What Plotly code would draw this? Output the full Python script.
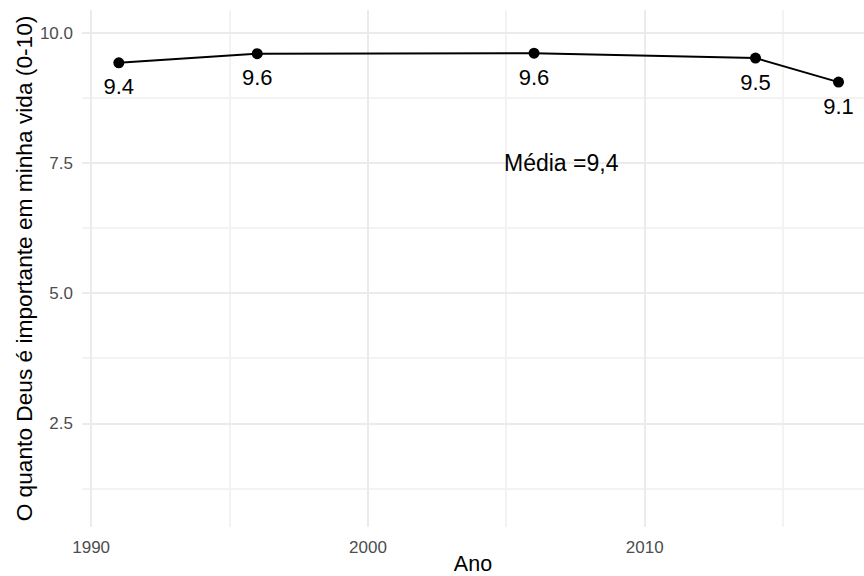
import plotly.graph_objects as go

anos = [1991, 1996, 2006, 2014, 2017]
valores = [9.435, 9.61, 9.62, 9.525, 9.064]
rotulos = [f"{v:.1f}" for v in valores]
media_texto = "Média =9,4"
media_pos = (2007, 7.5)
nudge = -0.5

FONT = "Liberation Sans, Arial, sans-serif"

fig = go.Figure()
fig.add_trace(go.Scatter(
    x=anos, y=valores, mode="lines+markers",
    line=dict(color="black", width=2),
    marker=dict(color="black", size=11),
    showlegend=False, hoverinfo="skip",
))
fig.add_trace(go.Scatter(
    x=anos, y=[v + nudge for v in valores], mode="text",
    text=rotulos, textposition="middle center",
    textfont=dict(family=FONT, size=22, color="black"),
    showlegend=False, hoverinfo="skip", cliponaxis=False,
))
fig.add_annotation(
    x=media_pos[0], y=media_pos[1], text=media_texto, showarrow=False,
    font=dict(family=FONT, size=23, color="black"),
    xanchor="center", yanchor="middle",
)

grid_major = "#EBEBEB"
tickfont = dict(family=FONT, size=17, color="#4D4D4D")
titlefont = dict(family=FONT, size=21.5, color="black")

fig.update_xaxes(
    range=[1989.67, 2017.92], tick0=1990, dtick=10,
    showgrid=True, gridcolor=grid_major, gridwidth=2,
    minor=dict(dtick=5, tick0=1990, showgrid=True, gridcolor="#F3F3F3", gridwidth=1.5),
    zeroline=False, showline=False, ticks="", ticklabelstandoff=8,
    tickfont=tickfont, automargin=False,
    title=dict(text="Ano", font=titlefont, standoff=4),
)
fig.update_yaxes(
    range=[0.51, 10.45], tick0=0, dtick=2.5, tickformat=".1f",
    showgrid=True, gridcolor=grid_major, gridwidth=2,
    minor=dict(dtick=1.25, tick0=0, showgrid=True, gridcolor="#F3F3F3", gridwidth=1.5),
    zeroline=False, showline=False, ticks="", ticklabelstandoff=8,
    tickfont=tickfont, automargin=False,
    title=dict(text="O quanto Deus é importante em minha vida (0-10)",
               font=dict(family=FONT, size=22.7, color="black"), standoff=0),
)
fig.update_layout(
    width=864, height=576,
    margin=dict(l=82, r=0, t=10, b=49),
    plot_bgcolor="white", paper_bgcolor="white",
    font=dict(family=FONT),
)
fig.write_html(
    "out.html",
    config={"displayModeBar": False},
    post_script="document.body.style.margin='0';document.body.style.overflow='hidden';",
)
